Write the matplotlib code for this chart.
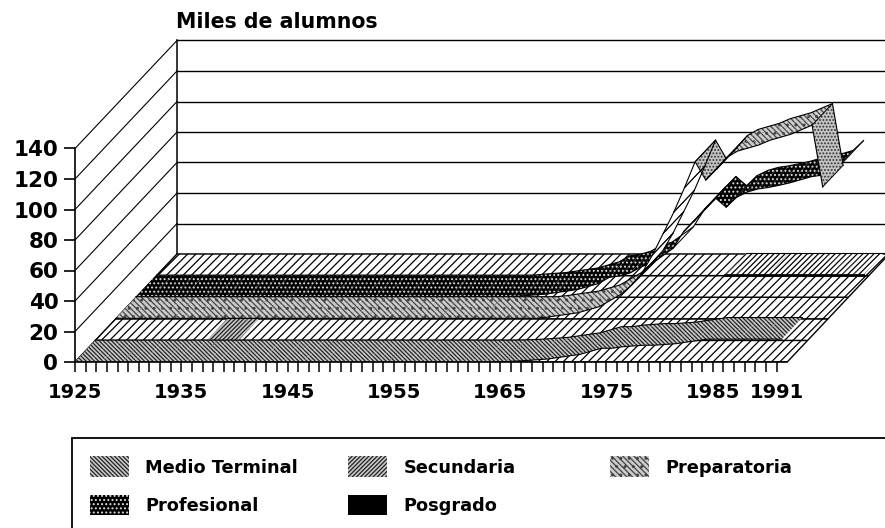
import numpy as np
import matplotlib
matplotlib.use('Agg')
import matplotlib.pyplot as plt
from matplotlib.patches import Polygon, Patch, Rectangle

nan = np.nan
anios = list(range(1925, 1992))
etiquetas_x = [1925, 1935, 1945, 1955, 1965, 1975, 1985, 1991]
ticks_y = [0, 20, 40, 60, 80, 100, 120, 140]

# valores, miles de alumnos, 1925-1991
medio_terminal = [0.2] * 40 + [
    0.3, 0.6, 1, 1.5, 2, 3, 4, 5, 7, 9,      # 1965-74
    9, 10, 10.5, 11, 11, 11.5, 12, 13, 14, 15, 15, 15, 15, 15, 15, 15, 15]
secundaria = [nan] * 10 + [0.2, 0.2, 0.2, 0.2] + [nan] * 53
preparatoria = [0.3] * 40 + [
    1, 2, 3, 4, 6, 8, 12, 16, 22, 30,        # 1965-74
    42, 56, 70, 86, 103, 91, 98, 106, 110, 112,
    114, 117, 119, 121, 124, 127, 86.5]
profesional = [0.3] * 36 + [
    1, 1.5, 2, 3, 4, 5, 7, 9, 13, 14,        # 1961-70
    16, 20, 22, 27,
    32, 43, 50, 58, 65, 59, 65.6, 69, 71, 72,
    73.4, 75, 77, 79, 80, 82, 88.5]
posgrado = [nan] * 53 + [0.4] * 14

series = ['Medio Terminal', 'Secundaria', 'Preparatoria', 'Profesional', 'Posgrado']
valores = [medio_terminal, secundaria, preparatoria, profesional, posgrado]

estilos = {
    'Medio Terminal': dict(facecolor='#c8c8c8', edgecolor='#222222', hatch='\\' * 8),
    'Secundaria': dict(facecolor='#c8c8c8', edgecolor='#222222', hatch='/' * 8),
    'Preparatoria': dict(facecolor='#cccccc', edgecolor='#444444', hatch='\\' * 6 + '..'),
    'Profesional': dict(facecolor='k', edgecolor='#dddddd', hatch='....'),
    'Posgrado': dict(facecolor='white', edgecolor='k', hatch='//////'),
}
leyenda_estilos = [
    ['Medio Terminal', 'Profesional'],
    ['Secundaria', 'Posgrado'],
    ['Preparatoria'],
]
x_leyenda = [85, 343, 605]

W, H = 885, 528
px_anio = 10.63
px_valor = 1.525
dx = 20.4 / px_anio   # corrimiento de cada banda de profundidad
dy = 21.6 / px_valor

plt.rcParams['font.family'] = ['DejaVu Sans']
plt.rcParams['font.weight'] = 'bold'
plt.rcParams['hatch.linewidth'] = 0.9

fig = plt.figure(figsize=(W / 100, H / 100), dpi=100)
ax = fig.add_axes([75 / W, (H - 362) / H, 810 / W, 362 / H])
ax.set_xlim(1925, 1925 + 810 / px_anio)
ax.set_ylim(0, 362 / px_valor)
ax.patch.set_visible(False)
ax.spines['top'].set_visible(False)
ax.spines['right'].set_visible(False)
ax.spines['left'].set_bounds(0, 140)
ax.spines['bottom'].set_bounds(1925, 1992)
ax.spines['left'].set_linewidth(1.2)
ax.spines['bottom'].set_linewidth(1.2)

ax.set_xticks(anios)
ax.set_xticklabels([str(a) if a in etiquetas_x else '' for a in anios], fontsize=14)
ax.set_yticks(ticks_y)
ax.tick_params(axis='x', length=7, width=1.1, pad=8)
ax.tick_params(axis='y', length=8, width=1.2, pad=4, labelsize=15.5)

fondo_x = 1925 + 5 * dx
fondo_y = 5 * dy
# paredes
for v in ticks_y:
    ax.plot([1925, fondo_x], [v, v + fondo_y], color='k', lw=0.8, zorder=1)
    ax.plot([fondo_x, 2010], [v + fondo_y, v + fondo_y], color='k', lw=1, zorder=1)
ax.plot([fondo_x, fondo_x], [fondo_y, 140 + fondo_y], color='k', lw=1.1, zorder=1)

# piso
for d in range(5):
    esquinas = [(1925 + d * dx, d * dy), (1992 + d * dx, d * dy),
                (1992 + (d + 1) * dx, (d + 1) * dy), (1925 + (d + 1) * dx, (d + 1) * dy)]
    ax.add_patch(Polygon(esquinas, facecolor='white', edgecolor='k', hatch='////', lw=1, zorder=2))

# cintas, de atras hacia adelante
for d in range(4, -1, -1):
    nombre = series[d]
    v = np.array(valores[d], dtype=float)
    x = np.array(anios, dtype=float) + 0.5
    x[0] = 1925
    z = 10 + (4 - d) * 2
    for i in range(len(x) - 1):
        if np.isnan(v[i]) or np.isnan(v[i + 1]):
            continue
        cambio = v[i + 1] - v[i]
        estilo = estilos[nombre]
        if cambio > 9 or (nombre == 'Profesional' and cambio > 6):
            estilo = dict(facecolor='white', edgecolor='white', hatch=None)
        elif cambio < -8 and nombre == 'Preparatoria':
            estilo = dict(facecolor='#c4c4c4', edgecolor='#333333', hatch='.....')
        caras = [(x[i] + d * dx, v[i] + d * dy), (x[i + 1] + d * dx, v[i + 1] + d * dy),
                 (x[i + 1] + (d + 1) * dx, v[i + 1] + (d + 1) * dy), (x[i] + (d + 1) * dx, v[i] + (d + 1) * dy)]
        ax.add_patch(Polygon(caras, lw=0, zorder=z, **estilo))
        if abs(cambio) > 6:
            ax.plot([x[i] + d * dx, x[i] + (d + 1) * dx], [v[i] + d * dy, v[i] + (d + 1) * dy],
                    color='k', lw=0.7, zorder=z + 1)
            ax.plot([x[i + 1] + d * dx, x[i + 1] + (d + 1) * dx], [v[i + 1] + d * dy, v[i + 1] + (d + 1) * dy],
                    color='k', lw=0.7, zorder=z + 1)
    ancho = 2 if nombre == 'Posgrado' else 0.8
    ax.plot(x + d * dx, v + d * dy, color='k', lw=ancho, zorder=z + 1)
    ax.plot(x + (d + 1) * dx, v + (d + 1) * dy, color='k', lw=0.8, zorder=z + 1)

fig.text(176 / W, 1 - 22 / H, 'Miles de alumnos', fontsize=14.8, va='center', ha='left')

# leyenda: una por columna, el recuadro se corta en el borde como en el original
fig.add_artist(Rectangle((72 / W, -0.1), 1, 0.1 + (H - 438) / H, transform=fig.transFigure,
                         fill=False, edgecolor='k', lw=1.3))
for col, nombres in zip(x_leyenda, leyenda_estilos):
    marcas = []
    for n in nombres:
        e = dict(estilos[n])
        if n == 'Posgrado':
            e = dict(facecolor='k', edgecolor='k', hatch=None)
        marcas.append(Patch(**e, lw=0, label=n))
    fig.legend(handles=marcas, loc='upper left', bbox_to_anchor=(col / W, 1 - 451 / H),
               bbox_transform=fig.transFigure, frameon=False, fontsize=12.8,
               handlelength=2.2, handleheight=1.4, handletextpad=0.9, labelspacing=1.0,
               borderpad=0.3, borderaxespad=0)

fig.savefig('out.png', dpi=100)
